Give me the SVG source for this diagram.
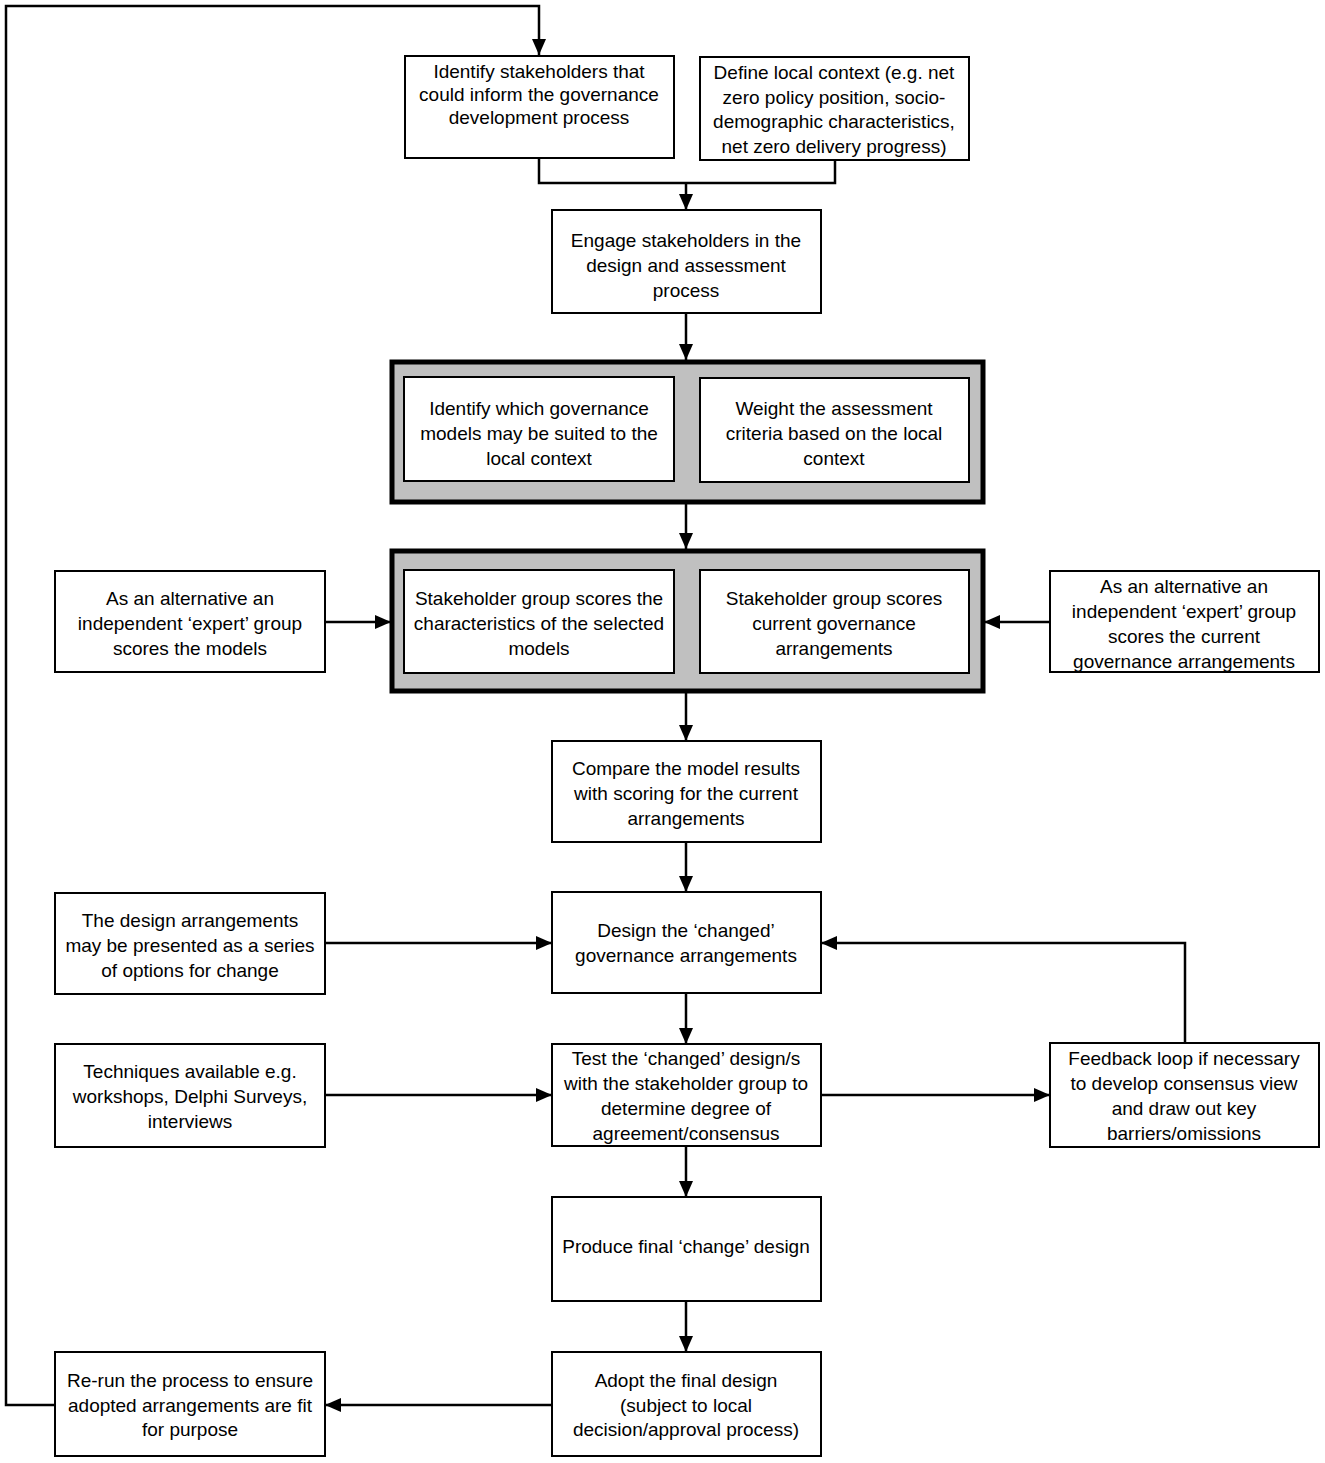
<svg xmlns="http://www.w3.org/2000/svg" width="1325" height="1463" viewBox="0 0 1325 1463">
<style>
.box{fill:#fff;stroke:#000;stroke-width:2}
.grp{fill:#c0c0c0;stroke:#000;stroke-width:5}
.t{font-family:"Liberation Sans",Arial,sans-serif;font-size:19px;fill:#000;text-anchor:middle}
.c{fill:none;stroke:#000;stroke-width:2.5}
</style>
<defs>
<marker id="ah" markerUnits="userSpaceOnUse" markerWidth="16" markerHeight="14" refX="16" refY="7" orient="auto">
<path d="M0,0 L16,7 L0,14 z" fill="#000"/>
</marker>
</defs>
<rect width="1325" height="1463" fill="#fff"/>
<g id="connectors">
<path class="c" d="M55,1405 H6 V6 H539 V55" marker-end="url(#ah)"/>
<path class="c" d="M539,158 V183 H835 V160"/>
<path class="c" d="M686,183 V210" marker-end="url(#ah)"/>
<path class="c" d="M686,313 V360" marker-end="url(#ah)"/>
<path class="c" d="M686,503 V549" marker-end="url(#ah)"/>
<path class="c" d="M325,622 H391" marker-end="url(#ah)"/>
<path class="c" d="M1050,622 H984" marker-end="url(#ah)"/>
<path class="c" d="M686,692 V741" marker-end="url(#ah)"/>
<path class="c" d="M686,842 V892" marker-end="url(#ah)"/>
<path class="c" d="M325,943 H552" marker-end="url(#ah)"/>
<path class="c" d="M1185,1043 V943 H821" marker-end="url(#ah)"/>
<path class="c" d="M686,993 V1044" marker-end="url(#ah)"/>
<path class="c" d="M325,1095 H552" marker-end="url(#ah)"/>
<path class="c" d="M821,1095 H1050" marker-end="url(#ah)"/>
<path class="c" d="M686,1146 V1197" marker-end="url(#ah)"/>
<path class="c" d="M686,1301 V1352" marker-end="url(#ah)"/>
<path class="c" d="M552,1405 H325" marker-end="url(#ah)"/>
</g>
<g id="n1"><rect class="box" x="405" y="56" width="269" height="102"/>
<text class="t"><tspan x="539" y="78">Identify stakeholders that</tspan><tspan x="539" y="101">could inform the governance</tspan><tspan x="539" y="124">development process</tspan></text></g>
<g id="n2"><rect class="box" x="700" y="57" width="269" height="103"/>
<text class="t"><tspan x="834" y="79">Define local context (e.g. net</tspan><tspan x="834" y="104">zero policy position, socio-</tspan><tspan x="834" y="128">demographic characteristics,</tspan><tspan x="834" y="153">net zero delivery progress)</tspan></text></g>
<g id="n3"><rect class="box" x="552" y="210" width="269" height="103"/>
<text class="t"><tspan x="686" y="247">Engage stakeholders in the</tspan><tspan x="686" y="272">design and assessment</tspan><tspan x="686" y="297">process</tspan></text></g>
<g id="g1"><rect class="grp" x="392" y="362" width="591" height="140"/>
<rect class="box" x="404" y="377" width="270" height="104"/>
<text class="t"><tspan x="539" y="415">Identify which governance</tspan><tspan x="539" y="440">models may be suited to the</tspan><tspan x="539" y="465">local context</tspan></text>
<rect class="box" x="700" y="378" width="269" height="104"/>
<text class="t"><tspan x="834" y="415">Weight the assessment</tspan><tspan x="834" y="440">criteria based on the local</tspan><tspan x="834" y="465">context</tspan></text></g>
<g id="g2"><rect class="grp" x="392" y="551" width="591" height="140"/>
<rect class="box" x="404" y="570" width="270" height="103"/>
<text class="t"><tspan x="539" y="605">Stakeholder group scores the</tspan><tspan x="539" y="630">characteristics of the selected</tspan><tspan x="539" y="655">models</tspan></text>
<rect class="box" x="700" y="570" width="269" height="103"/>
<text class="t"><tspan x="834" y="605">Stakeholder group scores</tspan><tspan x="834" y="630">current governance</tspan><tspan x="834" y="655">arrangements</tspan></text></g>
<g id="alt1"><rect class="box" x="55" y="571" width="270" height="101"/>
<text class="t"><tspan x="190" y="605">As an alternative an</tspan><tspan x="190" y="630">independent ‘expert’ group</tspan><tspan x="190" y="655">scores the models</tspan></text></g>
<g id="alt2"><rect class="box" x="1050" y="571" width="269" height="101"/>
<text class="t"><tspan x="1184" y="593">As an alternative an</tspan><tspan x="1184" y="618">independent ‘expert’ group</tspan><tspan x="1184" y="643">scores the current</tspan><tspan x="1184" y="668">governance arrangements</tspan></text></g>
<g id="compare"><rect class="box" x="552" y="741" width="269" height="101"/>
<text class="t"><tspan x="686" y="775">Compare the model results</tspan><tspan x="686" y="800">with scoring for the current</tspan><tspan x="686" y="825">arrangements</tspan></text></g>
<g id="design"><rect class="box" x="552" y="892" width="269" height="101"/>
<text class="t"><tspan x="686" y="937">Design the ‘changed’</tspan><tspan x="686" y="962">governance arrangements</tspan></text></g>
<g id="designopts"><rect class="box" x="55" y="893" width="270" height="101"/>
<text class="t"><tspan x="190" y="927">The design arrangements</tspan><tspan x="190" y="952">may be presented as a series</tspan><tspan x="190" y="977">of options for change</tspan></text></g>
<g id="test"><rect class="box" x="552" y="1044" width="269" height="102"/>
<text class="t"><tspan x="686" y="1065">Test the ‘changed’ design/s</tspan><tspan x="686" y="1090">with the stakeholder group to</tspan><tspan x="686" y="1115">determine degree of</tspan><tspan x="686" y="1140">agreement/consensus</tspan></text></g>
<g id="techniques"><rect class="box" x="55" y="1044" width="270" height="103"/>
<text class="t"><tspan x="190" y="1078">Techniques available e.g.</tspan><tspan x="190" y="1103">workshops, Delphi Surveys,</tspan><tspan x="190" y="1128">interviews</tspan></text></g>
<g id="feedback"><rect class="box" x="1050" y="1043" width="269" height="104"/>
<text class="t"><tspan x="1184" y="1065">Feedback loop if necessary</tspan><tspan x="1184" y="1090">to develop consensus view</tspan><tspan x="1184" y="1115">and draw out key</tspan><tspan x="1184" y="1140">barriers/omissions</tspan></text></g>
<g id="produce"><rect class="box" x="552" y="1197" width="269" height="104"/>
<text class="t"><tspan x="686" y="1253">Produce final ‘change’ design</tspan></text></g>
<g id="adopt"><rect class="box" x="552" y="1352" width="269" height="104"/>
<text class="t"><tspan x="686" y="1387">Adopt the final design</tspan><tspan x="686" y="1412">(subject to local</tspan><tspan x="686" y="1436">decision/approval process)</tspan></text></g>
<g id="rerun"><rect class="box" x="55" y="1352" width="270" height="104"/>
<text class="t"><tspan x="190" y="1387">Re-run the process to ensure</tspan><tspan x="190" y="1412">adopted arrangements are fit</tspan><tspan x="190" y="1436">for purpose</tspan></text></g>
</svg>
